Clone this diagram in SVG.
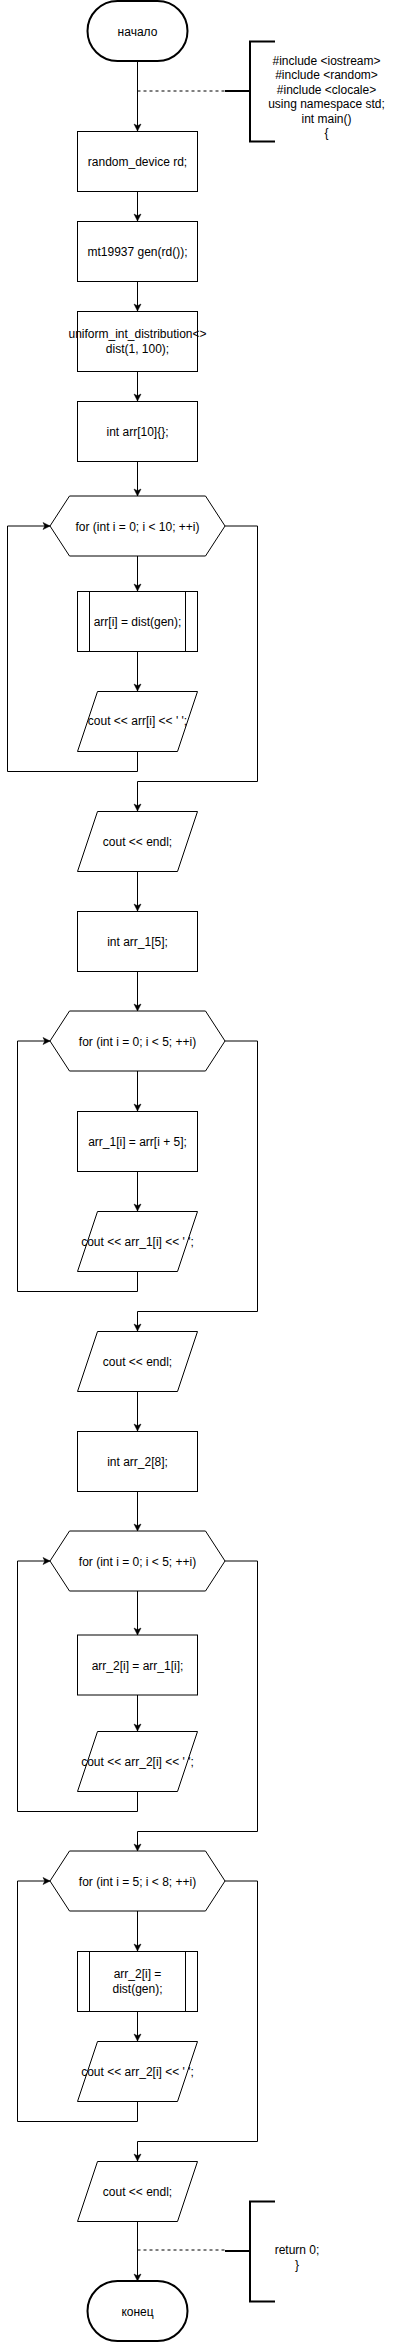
<svg xmlns="http://www.w3.org/2000/svg" width="418" height="2342" viewBox="0 0 418 2342">
<style>
.s{fill:#fff;stroke:#000;stroke-width:1}
.t{fill:#fff;stroke:#000;stroke-width:2}
.e{fill:none;stroke:#000;stroke-width:1}
.d{fill:none;stroke:#000;stroke-width:1;stroke-dasharray:3 3}
.b{fill:none;stroke:#000;stroke-width:2}
text{font-family:"Liberation Sans",Arial,sans-serif;font-size:12px;fill:#000;text-anchor:middle}
</style>
<defs>
<marker id="a" markerUnits="userSpaceOnUse" markerWidth="8" markerHeight="8" refX="7" refY="3.5" orient="auto" overflow="visible">
<path d="M0,0 L7,3.5 L0,7 L1.8,3.5 Z" fill="#000" stroke="#000" stroke-width="0.5"/>
</marker>
</defs>
<rect width="418" height="2342" fill="#fff"/>
<g id="connectors">
<path class="e" d="M137.5,62 V131" marker-end="url(#a)"/>
<path class="e" d="M137.5,191 V221" marker-end="url(#a)"/>
<path class="e" d="M137.5,281 V311" marker-end="url(#a)"/>
<path class="e" d="M137.5,371 V401" marker-end="url(#a)"/>
<path class="e" d="M137.5,461 V496" marker-end="url(#a)"/>
<path class="e" d="M137.5,556 V591" marker-end="url(#a)"/>
<path class="e" d="M137.5,651 V691" marker-end="url(#a)"/>
<path class="e" d="M137.5,751 V771.5 H7.5 V526 H50" marker-end="url(#a)"/>
<path class="e" d="M225,526 H257.5 V781.5 H137.5 V811" marker-end="url(#a)"/>
<path class="e" d="M137.5,871 V911" marker-end="url(#a)"/>
<path class="e" d="M137.5,971 V1011" marker-end="url(#a)"/>
<path class="e" d="M137.5,1071 V1111" marker-end="url(#a)"/>
<path class="e" d="M137.5,1171 V1211" marker-end="url(#a)"/>
<path class="e" d="M137.5,1271 V1291.5 H17.5 V1041 H50" marker-end="url(#a)"/>
<path class="e" d="M225,1041 H257.5 V1311.5 H137.5 V1331" marker-end="url(#a)"/>
<path class="e" d="M137.5,1391 V1431" marker-end="url(#a)"/>
<path class="e" d="M137.5,1491 V1531" marker-end="url(#a)"/>
<path class="e" d="M137.5,1591 V1635" marker-end="url(#a)"/>
<path class="e" d="M137.5,1695 V1731" marker-end="url(#a)"/>
<path class="e" d="M137.5,1791 V1811.5 H17.5 V1561 H50" marker-end="url(#a)"/>
<path class="e" d="M225,1561 H257.5 V1831.5 H137.5 V1851" marker-end="url(#a)"/>
<path class="e" d="M137.5,1911 V1951" marker-end="url(#a)"/>
<path class="e" d="M137.5,2011 V2041" marker-end="url(#a)"/>
<path class="e" d="M137.5,2101 V2121.5 H17.5 V1881 H50" marker-end="url(#a)"/>
<path class="e" d="M225,1881 H257.5 V2141.5 H137.5 V2161" marker-end="url(#a)"/>
<path class="e" d="M137.5,2221 V2281" marker-end="url(#a)"/>
<path class="d" d="M137.5,91 H225"/>
<path class="d" d="M137.5,2250 H225"/>
</g>
<g id="start">
<rect class="t" x="87.5" y="1" width="100" height="60" rx="30" ry="30"/>
<text x="137.5" y="35.5">начало</text>
</g>
<g id="note1">
<path class="b" d="M225,91 H250"/>
<path class="b" d="M275,41.5 H250 V141.5 H275"/>
<text x="326.5" y="64.5">#include &lt;iostream&gt;</text>
<text x="326.5" y="79">#include &lt;random&gt;</text>
<text x="326.5" y="93.5">#include &lt;clocale&gt;</text>
<text x="326.5" y="108">using namespace std;</text>
<text x="326.5" y="122.5">int main()</text>
<text x="326.5" y="137">{</text>
</g>
<g id="n1">
<rect class="s" x="77.5" y="131.5" width="120" height="60"/>
<text x="137.5" y="165.5">random_device rd;</text>
</g>
<g id="n2">
<rect class="s" x="77.5" y="221.5" width="120" height="60"/>
<text x="137.5" y="255.5">mt19937 gen(rd());</text>
</g>
<g id="n3">
<rect class="s" x="77.5" y="311.5" width="120" height="60"/>
<text x="137.5" y="338">uniform_int_distribution&lt;&gt;</text>
<text x="137.5" y="353">dist(1, 100);</text>
</g>
<g id="n4">
<rect class="s" x="77.5" y="401.5" width="120" height="60"/>
<text x="137.5" y="435.5">int arr[10]{};</text>
</g>
<g id="loop1">
<polygon class="s" points="50,526 69.5,496 205.5,496 225,526 205.5,556 69.5,556"/>
<text x="137.5" y="530.5">for (int i = 0; i &lt; 10; ++i)</text>
</g>
<g id="n5">
<rect class="s" x="77.5" y="591.5" width="120" height="60"/>
<path class="e" d="M89.5,591.5 V651.5 M185.5,591.5 V651.5"/>
<text x="137.5" y="625.5">arr[i] = dist(gen);</text>
</g>
<g id="n6">
<polygon class="s" points="97.5,691.5 197.5,691.5 177.5,751.5 77.5,751.5"/>
<text x="137.5" y="725">cout &lt;&lt; arr[i] &lt;&lt; ' ';</text>
</g>
<g id="n7">
<polygon class="s" points="97.5,811.5 197.5,811.5 177.5,871.5 77.5,871.5"/>
<text x="137.5" y="845.5">cout &lt;&lt; endl;</text>
</g>
<g id="n8">
<rect class="s" x="77.5" y="911.5" width="120" height="60"/>
<text x="137.5" y="945.5">int arr_1[5];</text>
</g>
<g id="loop2">
<polygon class="s" points="50,1041 69.5,1011 205.5,1011 225,1041 205.5,1071 69.5,1071"/>
<text x="137.5" y="1045.5">for (int i = 0; i &lt; 5; ++i)</text>
</g>
<g id="n9">
<rect class="s" x="77.5" y="1111.5" width="120" height="60"/>
<text x="137.5" y="1145.5">arr_1[i] = arr[i + 5];</text>
</g>
<g id="n10">
<polygon class="s" points="97.5,1211.5 197.5,1211.5 177.5,1271.5 77.5,1271.5"/>
<text x="137.5" y="1245.5">cout &lt;&lt; arr_1[i] &lt;&lt; ' ';</text>
</g>
<g id="n11">
<polygon class="s" points="97.5,1331.5 197.5,1331.5 177.5,1391.5 77.5,1391.5"/>
<text x="137.5" y="1365.5">cout &lt;&lt; endl;</text>
</g>
<g id="n12">
<rect class="s" x="77.5" y="1431.5" width="120" height="60"/>
<text x="137.5" y="1465.5">int arr_2[8];</text>
</g>
<g id="loop3">
<polygon class="s" points="50,1561 69.5,1531 205.5,1531 225,1561 205.5,1591 69.5,1591"/>
<text x="137.5" y="1565.5">for (int i = 0; i &lt; 5; ++i)</text>
</g>
<g id="n13">
<rect class="s" x="77.5" y="1635" width="120" height="60"/>
<text x="137.5" y="1669.5">arr_2[i] = arr_1[i];</text>
</g>
<g id="n14">
<polygon class="s" points="97.5,1731.5 197.5,1731.5 177.5,1791.5 77.5,1791.5"/>
<text x="137.5" y="1765.5">cout &lt;&lt; arr_2[i] &lt;&lt; ' ';</text>
</g>
<g id="loop4">
<polygon class="s" points="50,1881 69.5,1851 205.5,1851 225,1881 205.5,1911 69.5,1911"/>
<text x="137.5" y="1885.5">for (int i = 5; i &lt; 8; ++i)</text>
</g>
<g id="n15">
<rect class="s" x="77.5" y="1951.5" width="120" height="60"/>
<path class="e" d="M89.5,1951.5 V2011.5 M185.5,1951.5 V2011.5"/>
<text x="137.5" y="1978">arr_2[i] =</text>
<text x="137.5" y="1993">dist(gen);</text>
</g>
<g id="n16">
<polygon class="s" points="97.5,2041.5 197.5,2041.5 177.5,2101.5 77.5,2101.5"/>
<text x="137.5" y="2075.5">cout &lt;&lt; arr_2[i] &lt;&lt; ' ';</text>
</g>
<g id="n17">
<polygon class="s" points="97.5,2161.5 197.5,2161.5 177.5,2221.5 77.5,2221.5"/>
<text x="137.5" y="2195.5">cout &lt;&lt; endl;</text>
</g>
<g id="note2">
<path class="b" d="M225,2251 H250"/>
<path class="b" d="M275,2201.5 H250 V2301.5 H275"/>
<text x="297" y="2253.5">return 0;</text>
<text x="297" y="2268.5">}</text>
</g>
<g id="end">
<rect class="t" x="87.5" y="2281" width="100" height="60" rx="30" ry="30"/>
<text x="137.5" y="2315.5">конец</text>
</g>
</svg>
